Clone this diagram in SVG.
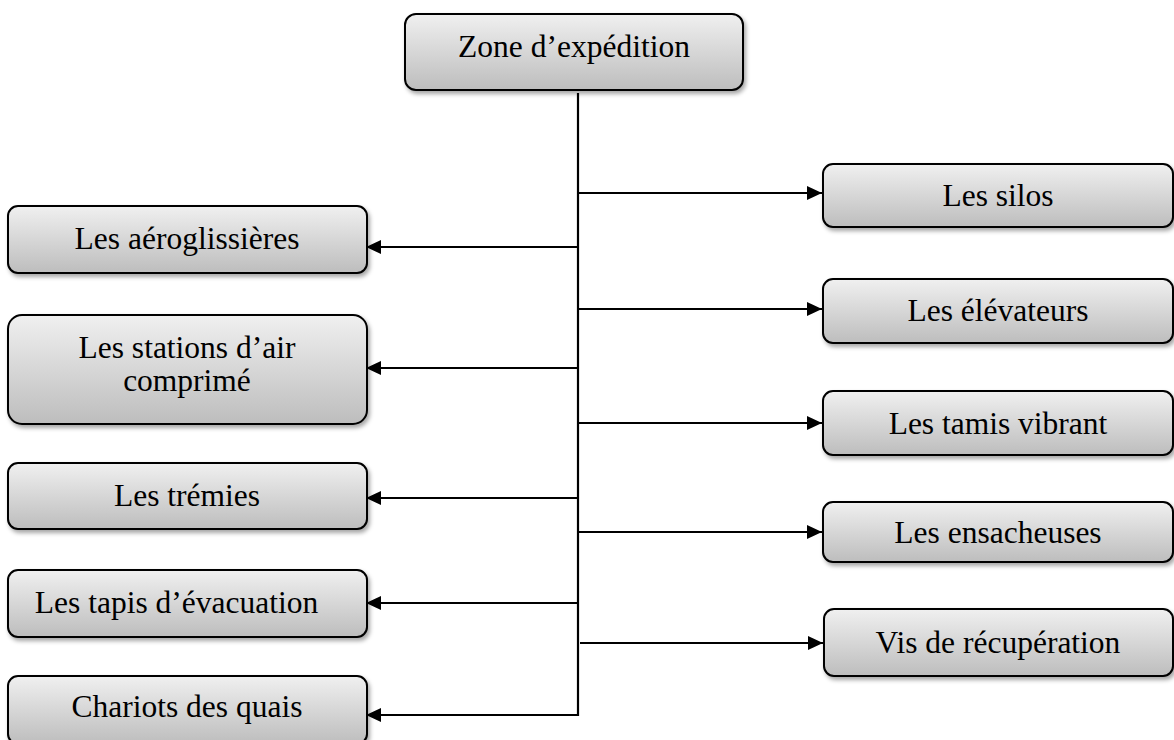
<svg xmlns="http://www.w3.org/2000/svg" width="1174" height="740" viewBox="0 0 1174 740">
<style>
.box{fill:url(#g);stroke:#000;stroke-width:2;filter:url(#sh)}
.t{font-family:"Liberation Serif","Times New Roman",serif;font-size:31.5px;fill:#000;text-anchor:middle}
.ln{stroke:#000;stroke-width:2.2;fill:none}
.ar{stroke:#000;stroke-width:2.2;fill:none;marker-end:url(#ah)}
</style>
<defs>
<linearGradient id="g" x1="0" y1="0" x2="0" y2="1">
<stop offset="0" stop-color="#f0f0f0"/>
<stop offset="1" stop-color="#bdbdbd"/>
</linearGradient>
<filter id="sh" x="-10%" y="-20%" width="120%" height="150%">
<feDropShadow dx="2" dy="3" stdDeviation="2" flood-color="#000" flood-opacity="0.35"/>
</filter>
<marker id="ah" markerWidth="16" markerHeight="14" refX="15" refY="7" orient="auto" markerUnits="userSpaceOnUse">
<path d="M0,0 L15,7 L0,14 Z" fill="#000"/>
</marker>
</defs>
<rect width="1174" height="740" fill="#fff"/>
<g id="connectors">
<line class="ln" x1="578" y1="93" x2="578" y2="716"/>
<line class="ar" x1="578" y1="193" x2="822" y2="193"/>
<line class="ar" x1="578" y1="309" x2="822" y2="309"/>
<line class="ar" x1="578" y1="423" x2="822" y2="423"/>
<line class="ar" x1="578" y1="532" x2="822" y2="532"/>
<line class="ar" x1="580" y1="643" x2="823" y2="643"/>
<line class="ar" x1="578" y1="247" x2="366" y2="247"/>
<line class="ar" x1="578" y1="368" x2="366" y2="368"/>
<line class="ar" x1="578" y1="498" x2="366" y2="498"/>
<line class="ar" x1="578" y1="603" x2="366" y2="603"/>
<line class="ar" x1="579" y1="715" x2="366" y2="715"/>
</g>
<g id="n-zone"><rect class="box" x="405" y="14" width="338" height="76" rx="11"/><text class="t" x="574" y="57">Zone d’expédition</text></g>
<g id="n-silos"><rect class="box" x="823" y="164" width="350" height="63" rx="10"/><text class="t" x="998" y="206">Les silos</text></g>
<g id="n-elevateurs"><rect class="box" x="823" y="279" width="350" height="64" rx="10"/><text class="t" x="998" y="321">Les élévateurs</text></g>
<g id="n-tamis"><rect class="box" x="823" y="391" width="350" height="64" rx="10"/><text class="t" x="998" y="434">Les tamis vibrant</text></g>
<g id="n-ensacheuses"><rect class="box" x="823" y="502" width="350" height="60" rx="10"/><text class="t" x="998" y="543">Les ensacheuses</text></g>
<g id="n-vis"><rect class="box" x="824" y="609" width="349" height="67" rx="10"/><text class="t" x="998" y="653">Vis de récupération</text></g>
<g id="n-aero"><rect class="box" x="8" y="206" width="359" height="67" rx="10"/><text class="t" x="187" y="249">Les aéroglissières</text></g>
<g id="n-stations"><rect class="box" x="8" y="315" width="359" height="109" rx="14"/><text class="t" x="187" y="358">Les stations d’air</text><text class="t" x="187" y="391">comprimé</text></g>
<g id="n-tremies"><rect class="box" x="8" y="463" width="359" height="66" rx="10"/><text class="t" x="187" y="506">Les trémies</text></g>
<g id="n-tapis"><rect class="box" x="8" y="570" width="359" height="67" rx="10"/><text class="t" x="176.5" y="613">Les tapis d’évacuation</text></g>
<g id="n-chariots"><rect class="box" x="8" y="676" width="359" height="68" rx="10"/><text class="t" x="187" y="717">Chariots des quais</text></g>
</svg>
